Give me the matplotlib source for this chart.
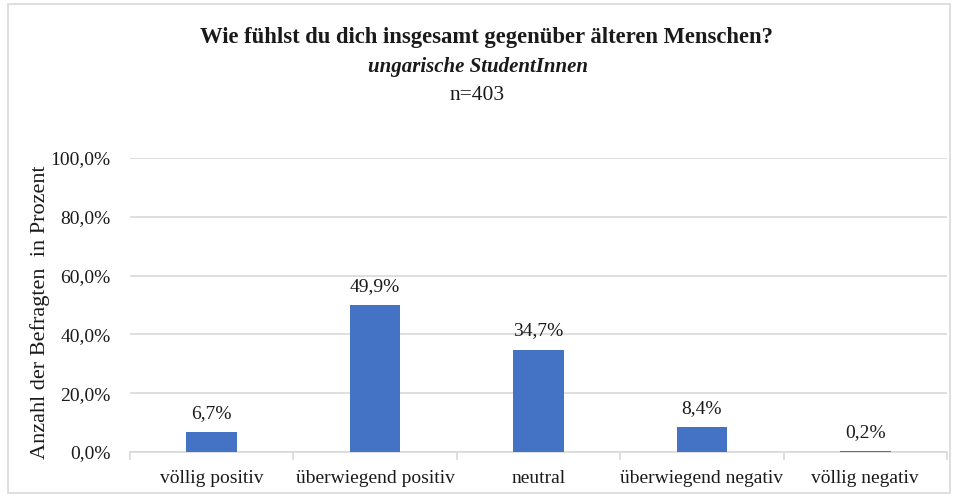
import numpy as np
import matplotlib.pyplot as plt
from matplotlib.patches import Rectangle
from matplotlib.ticker import FuncFormatter

# ==============================================================================
# Data
#
categories = ['völlig positiv', 'überwiegend positiv', 'neutral',
              'überwiegend negativ', 'völlig negativ']
shares = [6.7, 49.9, 34.7, 8.4, 0.2]
y_ticks = [0, 20, 40, 60, 80, 100]

TITLE = 'Wie fühlst du dich insgesamt gegenüber älteren Menschen?'
SUBTITLE = 'ungarische StudentInnen'
SAMPLE = 'n=403'
Y_LABEL = 'Anzahl der Befragten  in Prozent'

# ==============================================================================
# Style
#
BAR_COLOR = '#4472C4'
GRID_COLOR = '#d9d9d9'
TEXT_COLOR = '#1a1a1a'
FONT = 'Liberation Serif'
FONT_SIZE = 14

plt.rcParams['font.family'] = FONT

# ==============================================================================
# Plot
#
fig = plt.figure(figsize=(9.55, 4.97), dpi=100)
ax = fig.add_axes([130/955, 1 - 452/497, 817/955, 294/497])

x = np.arange(len(categories))
ax.bar(x, shares, width=0.31, color=BAR_COLOR, linewidth=0, zorder=3)
for xi, v in zip(x, shares):
    ax.text(xi, v + 3.6, ('%.1f%%' % v).replace('.', ','), ha='center',
            va='bottom', fontsize=FONT_SIZE, color=TEXT_COLOR)

ax.set_xlim(-0.5, len(categories) - 0.5)
ax.set_ylim(0, 100)
ax.set_yticks(y_ticks)
ax.yaxis.set_major_formatter(
    FuncFormatter(lambda v, p: ('%.1f%%' % v).replace('.', ',')))
ax.set_xticks(x)
ax.set_xticklabels(categories)
ax.set_xticks(np.arange(-0.5, len(categories)), minor=True)

ax.grid(axis='y', color=GRID_COLOR, linewidth=1.2, zorder=0)
for side in ('top', 'right', 'left'):
    ax.spines[side].set_visible(False)
ax.spines['bottom'].set_color(GRID_COLOR)
ax.spines['bottom'].set_linewidth(1.2)

ax.tick_params(axis='y', length=0, pad=14, labelsize=FONT_SIZE,
               labelcolor=TEXT_COLOR)
ax.tick_params(axis='x', which='major', length=0, pad=13,
               labelsize=FONT_SIZE, labelcolor=TEXT_COLOR)
ax.tick_params(axis='x', which='minor', length=6, color=GRID_COLOR,
               width=1.2)

                                                                 # axis label
fig.text(40/955, 1 - 312/497, Y_LABEL, rotation=90, ha='center',
         va='center', fontsize=16, color=TEXT_COLOR)

fig.text(486/955, 1 - 38/497, TITLE, ha='center', va='center',
         fontsize=16.3, fontweight='bold', color=TEXT_COLOR)
fig.text(0.5, 1 - 67/497, SUBTITLE, ha='center', va='center',
         fontsize=15, fontstyle='italic', fontweight='bold',
         color=TEXT_COLOR)
fig.text(0.5, 1 - 96/497, SAMPLE, ha='center', va='center',
         fontsize=15.5, color=TEXT_COLOR)

                                                                  # chart frame
fig.patches.append(Rectangle((8/955, 4/497), 942/955, 489/497,
                             transform=fig.transFigure, fill=False,
                             edgecolor=GRID_COLOR, linewidth=1.2))

fig.savefig('out.png', dpi=100)
